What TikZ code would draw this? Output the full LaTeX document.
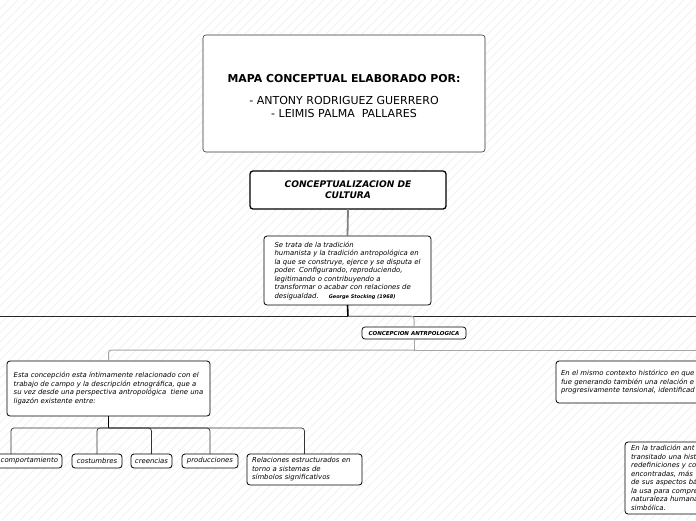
\documentclass[tikz,border=0pt]{standalone}
\usepackage{fontspec}
\setmainfont{DejaVu Sans}
\begin{document}
\begin{tikzpicture}[x=1pt,y=-1pt,
  box/.style={draw=black, rounded corners=3pt, fill=white, line width=0.8pt, inner sep=0pt, outer sep=0pt, anchor=north west},
  txt/.style={font=\fontsize{6.9}{8.5}\selectfont\itshape},
  leaf/.style={box, minimum height=14pt, txt, align=center},
  grayline/.style={draw=black!35, line width=1pt},
  darkline/.style={draw=black!80, line width=0.7pt, rounded corners=3pt}
]
\useasboundingbox (0,0) rectangle (696,520);
\fill[white] (0,0) rectangle (696,520);
\begin{scope}
\clip (0,0) rectangle (696,520);
\foreach \i in {-520,-511,...,700} \draw[black!5, line width=0.8pt] (\i,520) -- ++(520,-520);

% coordinates
\coordinate (hl) at (0,316);
\coordinate (hub) at (348,316);
\coordinate (hr) at (696,316);
\coordinate (rr) at (700,350);

% nodes
\node[box, draw=black!80, line width=0.6pt, minimum width=282pt, minimum height=117pt, align=center, font=\fontsize{11}{13}\selectfont] (title) at (203,35)
  {\rule{0pt}{14pt}{\bfseries\fontsize{10.9}{13}\selectfont MAPA CONCEPTUAL ELABORADO POR:}\\[9pt]
   - ANTONY RODRIGUEZ GUERRERO\\ - LEIMIS PALMA\ \ PALLARES};

\node[box, line width=1.3pt, minimum width=196pt, minimum height=38pt, align=center, font=\fontsize{9.1}{11}\selectfont\bfseries\itshape] (concept) at (250,171)
  {CONCEPTUALIZACION DE\\CULTURA};

\node[box, minimum width=167pt, minimum height=69pt, align=left, txt] (def) at (264,236)
  {Se trata de la tradición\\
   humanista y la tradición antropológica en\\
   la que se construye, ejerce y se disputa el\\
   poder. Configurando, reproduciendo,\\
   legitimando o contribuyendo a\\
   transformar o acabar con relaciones de\\
   desigualdad.\hspace{10pt}{\upshape\bfseries\itshape\fontsize{5}{6}\selectfont George Stocking (1968)}};

\node[box, line width=0.7pt, minimum width=104pt, minimum height=12pt, align=center, font=\fontsize{5.5}{6.5}\selectfont\bfseries\itshape] (concep) at (362,327)
  {CONCEPCION ANTRPOLOGICA};

\node[box, minimum width=203pt, minimum height=55pt, align=left, txt] (left) at (7,361)
  {Esta concepción esta íntimamente relacionado con el\\
   trabajo de campo y la descripción etnográfica, que a\\
   su vez desde una perspectiva antropológica\ \ tiene una\\
   ligazón existente entre:};

\node[box, minimum height=42pt, inner xsep=5pt, text width=160pt, align=left, txt] (right) at (556,361)
  {En el mismo contexto histórico en que\\
   fue generando también una relación e\\
   progresivamente tensional, identificad};

\node[box, minimum height=72pt, inner xsep=6pt, text width=100pt, align=left, txt] (right2) at (625,442)
  {En la tradición ant\\
   transitado una hist\\
   redefiniciones y co\\
   encontradas, más\\
   de sus aspectos bá\\
   la usa para compre\\
   naturaleza humana\\
   simbólica.};

\node[leaf, text width=94pt, inner xsep=4pt, align=right] (c1) at (-40,454) {comportamiento};
\node[leaf, minimum width=50pt] (c2) at (72,454) {costumbres};
\node[leaf, minimum width=41pt] (c3) at (131,454) {creencias};
\node[leaf, minimum width=56pt] (c4) at (182,454) {producciones};
\node[box, minimum height=31pt, inner xsep=5pt, text width=105pt, align=left, txt] (c5) at (247,454)
  {Relaciones estructurados en\\torno a sistemas de\\símbolos significativos};

% connectors
\draw[draw=black!50, line width=1.8pt] (concept.south) -- (def.north);
\draw[draw=black!85, line width=0.9pt] (hl) -- (hr);
\draw[black, line width=1.6pt] (def.south) -- (hub);
\draw[grayline, rounded corners=3pt] (hub) -| (concep.north);
\path (concep.south) ++(0,11) coordinate (j1);
\draw[grayline] (concep.south) -- (j1) -- (j1 -| rr);
\draw[grayline, rounded corners=3pt] (j1) -| (left.north);
\path (left.south) ++(0,12) coordinate (j2);
\draw[black, line width=1.6pt] (left.south) -- (j2);
\foreach \c in {c1,c2,c3,c4,c5} \draw[darkline] (j2) -| (\c.north);
\end{scope}
\end{tikzpicture}
\end{document}
